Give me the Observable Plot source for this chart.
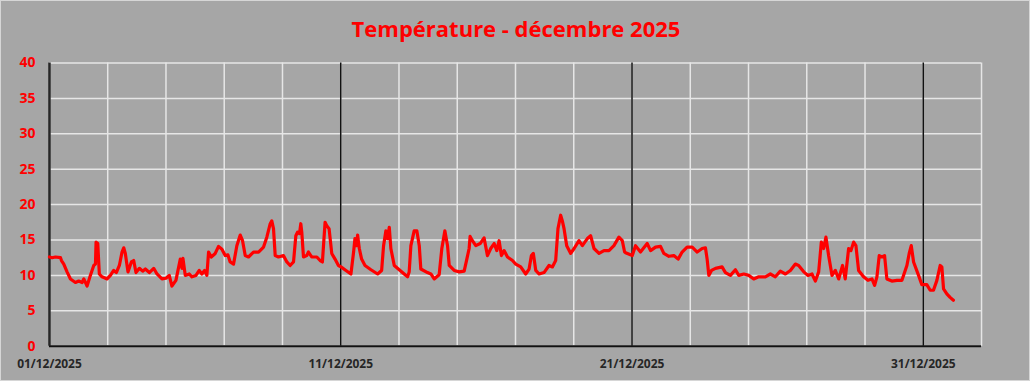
<!DOCTYPE html>
<html>
<head>
<meta charset="utf-8">
<script src="https://cdn.jsdelivr.net/npm/d3@7"></script>
<script src="https://cdn.jsdelivr.net/npm/@observablehq/plot@0.6"></script>
<style>
  html, body { margin: 0; padding: 0; background: #a6a6a6; }
  #wrap { position: relative; width: 1030px; height: 381px; box-sizing: border-box;
          border: 1px solid #d6d6d6; background: #a6a6a6; overflow: hidden; }
  #title { position: absolute; left: 0; top: 12px; width: 1030px; text-align: center;
           font-family: "Open Sans", sans-serif; font-weight: bold; font-size: 22px;
           color: #ff0000; line-height: 30px; }
  #chart { position: absolute; left: -1px; top: 49px; }
  #chart svg [aria-label="y-axis tick label"] { fill: #ff0000; font-weight: bold; font-size: 14px; font-family: "Open Sans", sans-serif; }
  #chart svg [aria-label="x-axis tick label"] { fill: #262626; font-weight: bold; font-size: 12px; font-family: "Open Sans", sans-serif; }
</style>
</head>
<body>
<div id="wrap">
  <div id="title">Température - décembre 2025</div>
  <div id="chart"></div>
</div>
<script>
// Hours since 01/12/2025 00:00
const hours = [
  0, 2.2, 4.9, 9.1, 9.9, 11.8, 14.5, 17.3, 21.4, 24.1, 26.9, 28.3, 31.0, 33.7, 36.5, 37.9, 38.4, 39.8, 41.1, 43.3,
  47.5, 50.2, 52.9, 55.1, 57.6, 59.8, 61.2, 62.5, 64.7, 67.5, 69.4, 71.3, 74.1, 76.8, 79.0, 82.3, 85.9, 88.6, 92.7, 96.0,
  98.7, 100.9, 104.2, 107.8, 109.2, 110.0, 111.9, 115.2, 117.4, 120.7, 123.4, 125.6, 127.8, 129.7, 131.1, 133.3, 136.6, 139.3, 142.1, 144.8,
  147.0, 148.9, 151.7, 154.4, 157.2, 159.1, 161.3, 164.0, 168.1, 172.3, 176.4, 179.1, 181.9, 183.2, 184.6, 186.0, 188.7, 192.8, 195.6, 198.3,
  201.1, 203.0, 204.4, 206.0, 207.1, 207.9, 209.3, 212.0, 213.4, 216.1, 220.3, 223.0, 224.9, 227.1, 228.5, 230.4, 232.6, 235.3, 238.1,
  240.2, 244.3, 248.4, 250.6, 251.7, 253.1, 253.9, 255.3, 257.2, 260.0, 264.9, 270.4, 273.7, 275.3, 277.2, 278.6, 280.0, 281.3, 284.1, 288.2,
  292.3, 295.1, 296.4, 297.8, 300.5, 302.7, 304.7, 306.0, 311.5, 314.3, 317.0, 321.1, 323.3, 325.8, 328.0, 329.4, 333.5, 337.6, 341.7, 343.9,
  345.8, 346.6, 348.5, 351.3, 354.9, 358.1, 360.9, 363.6, 366.4, 368.6, 370.5, 372.4, 374.6, 377.4, 381.5, 384.2, 388.3, 392.4, 395.2, 397.1,
  398.7, 400.7, 403.4, 407.5, 411.6, 414.4, 417.1, 419.0, 421.2, 422.6, 424.0, 426.2, 429.5, 432.3, 436.3, 439.1, 443.2, 445.9, 448.7, 452.8,
  456.9, 461.0, 465.1, 469.2, 472.0, 473.9,
  474.7, 480.2, 482.9, 487.0, 492.5, 495.3, 499.4, 503.5, 506.2, 510.4, 514.5, 518.0, 521.3, 525.4, 529.6, 533.7, 537.8, 540.5, 541.9, 543.3,
  545.5, 548.8, 554.2, 557.0, 561.1, 565.2, 568.0, 572.1, 576.2, 580.3, 584.4, 589.9, 594.0, 598.1, 602.2, 606.4, 610.5, 614.6, 617.3, 621.5,
  625.0, 628.3, 631.1, 633.8, 636.0, 637.9, 639.8, 642.0, 644.8, 647.5, 650.3, 653.5, 655.7, 658.5, 660.4, 662.6, 664.5, 666.7, 670.8, 674.4,
  677.7, 679.9, 681.8, 683.7, 685.9, 688.1, 690.0, 694.1, 698.3, 702.4, 706.5, 708.4, 710.1, 712.0, 716.1, 718.8, 722.9, 725.7, 728.4, 731.2,
  733.9, 735.3, 736.7, 739.4, 742.1, 744.8
];
// Temperature (°C)
const temps = [
  12.6, 12.5, 12.6, 12.5, 12.1, 11.6, 10.5, 9.5, 9.0, 9.2, 9.0, 9.5, 8.5, 10.0, 11.4, 11.6, 14.7, 14.5, 10.2, 9.8,
  9.5, 10.0, 10.7, 10.4, 11.4, 13.3, 13.9, 13.1, 10.5, 11.9, 12.1, 10.4, 11.0, 10.6, 10.9, 10.4, 11.0, 10.2, 9.5, 9.6,
  10.0, 8.5, 9.3, 12.3, 11.0, 12.4, 10.0, 10.2, 9.8, 10.0, 10.7, 10.2, 10.7, 10.0, 13.3, 12.6, 13.1, 14.1, 13.7, 12.8,
  12.9, 11.9, 11.6, 14.2, 15.7, 14.9, 12.8, 12.6, 13.3, 13.3, 14.0, 15.4, 17.3, 17.7, 16.6, 12.8, 12.6, 12.8, 11.9, 11.4,
  11.9, 15.6, 16.1, 15.9, 17.3, 16.1, 12.6, 12.8, 13.3, 12.6, 12.6, 12.1, 11.9, 17.5, 17.0, 16.6, 13.1, 12.3, 11.4,
  11.2, 10.7, 10.2, 13.3, 15.2, 14.2, 15.7, 13.8, 12.3, 11.4, 10.8, 10.2, 10.7, 14.2, 16.3, 15.2, 16.8, 13.8, 11.4, 10.8,
  10.2, 9.8, 10.5, 14.2, 16.3, 16.3, 14.2, 10.9, 10.4, 10.2, 9.5, 10.1, 13.8, 16.3, 14.2, 11.4, 10.7, 10.5, 10.6, 12.3,
  13.8, 15.5, 14.9, 14.2, 14.5, 15.3, 12.8, 13.8, 14.5, 13.5, 14.9, 12.8, 13.5, 12.6, 12.1, 11.6, 11.2, 10.2, 10.9, 12.8,
  13.1, 10.7, 10.2, 10.4, 11.4, 11.2, 12.1, 16.6, 18.5, 17.7, 16.6, 14.2, 13.1, 13.8, 14.9, 14.2, 15.2, 15.6, 13.8, 13.1,
  13.5, 13.5, 14.2, 15.4, 14.9, 13.3,
  13.2, 12.8, 14.2, 13.3, 14.5, 13.5, 14.0, 14.1, 13.1, 12.7, 12.8, 12.3, 13.3, 14.0, 14.0, 13.3, 13.8, 13.9, 12.3, 10.0,
  10.7, 11.0, 11.2, 10.4, 10.0, 10.8, 10.0, 10.2, 10.0, 9.5, 9.8, 9.8, 10.2, 9.8, 10.6, 10.2, 10.7, 11.6, 11.4, 10.5,
  10.0, 10.2, 9.2, 10.5, 14.7, 13.8, 15.4, 12.8, 10.0, 10.7, 9.5, 11.4, 9.5, 13.8, 13.5, 14.7, 14.2, 10.7, 9.8, 9.3,
  9.5, 8.6, 9.8, 12.8, 12.6, 12.8, 9.5, 9.2, 9.3, 9.3, 11.4, 13.1, 14.2, 11.9, 10.0, 8.7, 8.7, 7.9, 7.9, 9.3,
  11.4, 11.2, 8.1, 7.4, 6.9, 6.5
];
const yTicks = [0, 5, 10, 15, 20, 25, 30, 35, 40];
const gridHours = [0, 48, 96, 144, 192, 240, 288, 336, 384, 432, 480, 528, 576, 624, 672, 720, 768];
const dateTickHours = [0, 240, 480, 720];
const dateLabels = ["01/12/2025", "11/12/2025", "21/12/2025", "31/12/2025"];

const data = hours.map((h, i) => ({h, t: temps[i]}));

const chart = Plot.plot({
  width: 1030,
  height: 332,
  marginLeft: 49,
  marginRight: 48,
  marginTop: 12.5,
  marginBottom: 36,
  style: {background: "transparent", overflow: "visible"},
  x: {domain: [0, 768]},
  y: {domain: [0, 40]},
  marks: [
    Plot.ruleY(yTicks, {stroke: "#e6e6e6", strokeWidth: 1.5}),
    Plot.ruleX(gridHours, {stroke: "#e6e6e6", strokeWidth: 1.5}),
    Plot.ruleX(dateTickHours.slice(1), {stroke: "#111111", strokeWidth: 1.5}),
    Plot.ruleX([0], {stroke: "#262626", strokeWidth: 2.5}),
    Plot.ruleY([0], {stroke: "#111111", strokeWidth: 2, x1: 0, x2: 768}),
    Plot.line(data, {x: "h", y: "t", stroke: "#ff0000", strokeWidth: 3.2, strokeLinejoin: "round"}),
    Plot.axisY({ticks: yTicks, tickSize: 0, tickPadding: 14, label: null}),
    Plot.axisX({ticks: dateTickHours, tickSize: 0, tickPadding: 13, label: null,
                tickFormat: (d) => dateLabels[dateTickHours.indexOf(d)]})
  ]
});
document.getElementById("chart").appendChild(chart);
</script>
</body>
</html>
